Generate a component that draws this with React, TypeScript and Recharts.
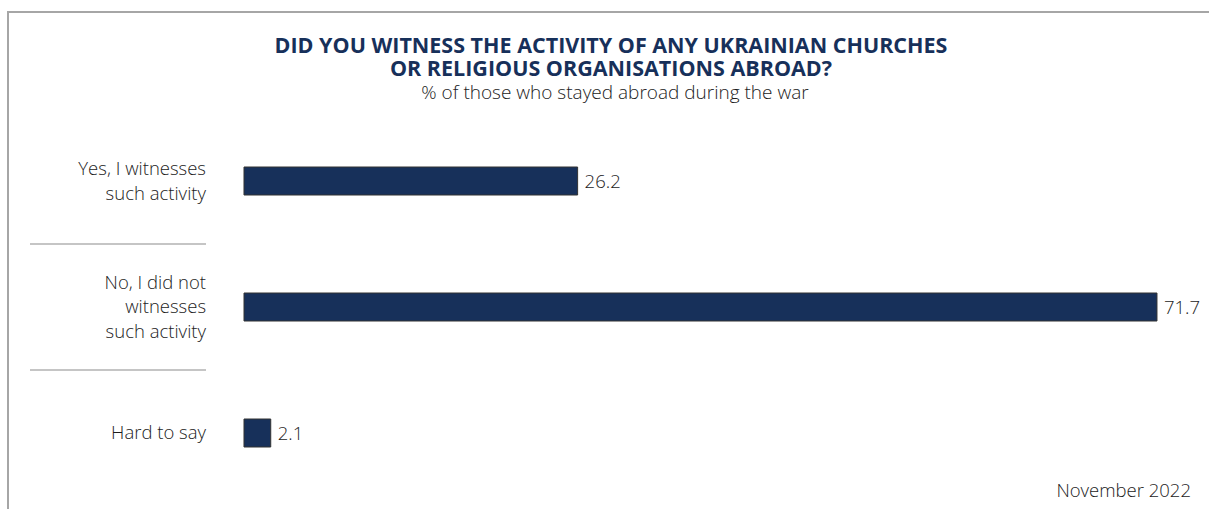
import { BarChart, Bar, XAxis, YAxis, LabelList } from 'recharts';

const categories = [
  'Yes, I witnesses\nsuch activity',
  'No, I did not\nwitnesses\nsuch activity',
  'Hard to say',
];
const shares = [26.2, 71.7, 2.1];
const titleLines = [
  'DID YOU WITNESS THE ACTIVITY OF ANY UKRAINIAN CHURCHES',
  'OR RELIGIOUS ORGANISATIONS ABROAD?',
];

const data = categories.map((label, i) => ({ label, value: shares[i] }));

const navy = '#17305a';
const textColor = '#1c1c1c';
const font = '"Open Sans", Lato, sans-serif';

const CategoryTick = (props: any) => {
  const { y, payload, index } = props;
  const lines = String(payload.value).split('\n');
  const lineHeight = 24.5;
  const start = y - ((lines.length - 1) * lineHeight) / 2;
  return (
    <g>
      {lines.map((line, i) => (
        <text
          key={i}
          x={206}
          y={start + i * lineHeight}
          dy="0.35em"
          textAnchor="end"
          fontSize={18.5}
          fontWeight={300}
          fontFamily={font}
          fill={textColor}
        >
          {line}
        </text>
      ))}
      {index < categories.length - 1 && (
        <line x1={30} x2={206} y1={y + 63} y2={y + 63} stroke="#8c8c8c" strokeWidth={1.2} />
      )}
    </g>
  );
};

export default function App() {
  return (
    <div style={{ position: 'absolute', left: 0, top: 0, width: 1209, height: 509, background: '#fff', fontFamily: font }}>
      <div style={{ position: 'absolute', left: 7, top: 11, width: 1202, height: 2, background: '#a6a6a6' }} />
      <div style={{ position: 'absolute', left: 7, top: 11, width: 2, height: 498, background: '#a6a6a6' }} />
      {titleLines.map((line, i) => (
        <div
          key={i}
          style={{
            position: 'absolute',
            left: 0,
            width: 1222,
            top: 33 + i * 23,
            height: 23,
            textAlign: 'center',
            color: navy,
            fontWeight: 700,
            fontSize: 21.5,
            lineHeight: '23px',
            letterSpacing: 0,
          }}
        >
          {line}
        </div>
      ))}
      <div
        style={{
          position: 'absolute',
          left: 0,
          width: 1230,
          top: 81,
          textAlign: 'center',
          color: textColor,
          fontSize: 19,
          fontWeight: 300,
          lineHeight: '22px',
        }}
      >
        % of those who stayed abroad during the war
      </div>
      <div style={{ position: 'absolute', left: 0, top: 0 }}>
        <BarChart
          width={1209}
          height={509}
          data={data}
          layout="vertical"
          margin={{ top: 118, right: 10, bottom: 13, left: 0 }}
        >
          <XAxis type="number" domain={[0, 75]} hide />
          <YAxis
            type="category"
            dataKey="label"
            width={244}
            axisLine={false}
            tickLine={false}
            tick={<CategoryTick />}
            interval={0}
          />
          <Bar dataKey="value" fill={navy} stroke="#333" strokeWidth={1} barSize={28} isAnimationActive={false}>
            <LabelList
              dataKey="value"
              position="right"
              offset={7}
              fill={textColor}
              fontSize={18.5}
              fontWeight={300}
              fontFamily={font}
              formatter={(v: any) => Number(v).toFixed(1)}
            />
          </Bar>
        </BarChart>
      </div>
      <div
        style={{
          position: 'absolute',
          right: 18,
          top: 479,
          color: textColor,
          fontSize: 18.5,
          fontWeight: 300,
          lineHeight: '22px',
        }}
      >
        November 2022
      </div>
    </div>
  );
}
